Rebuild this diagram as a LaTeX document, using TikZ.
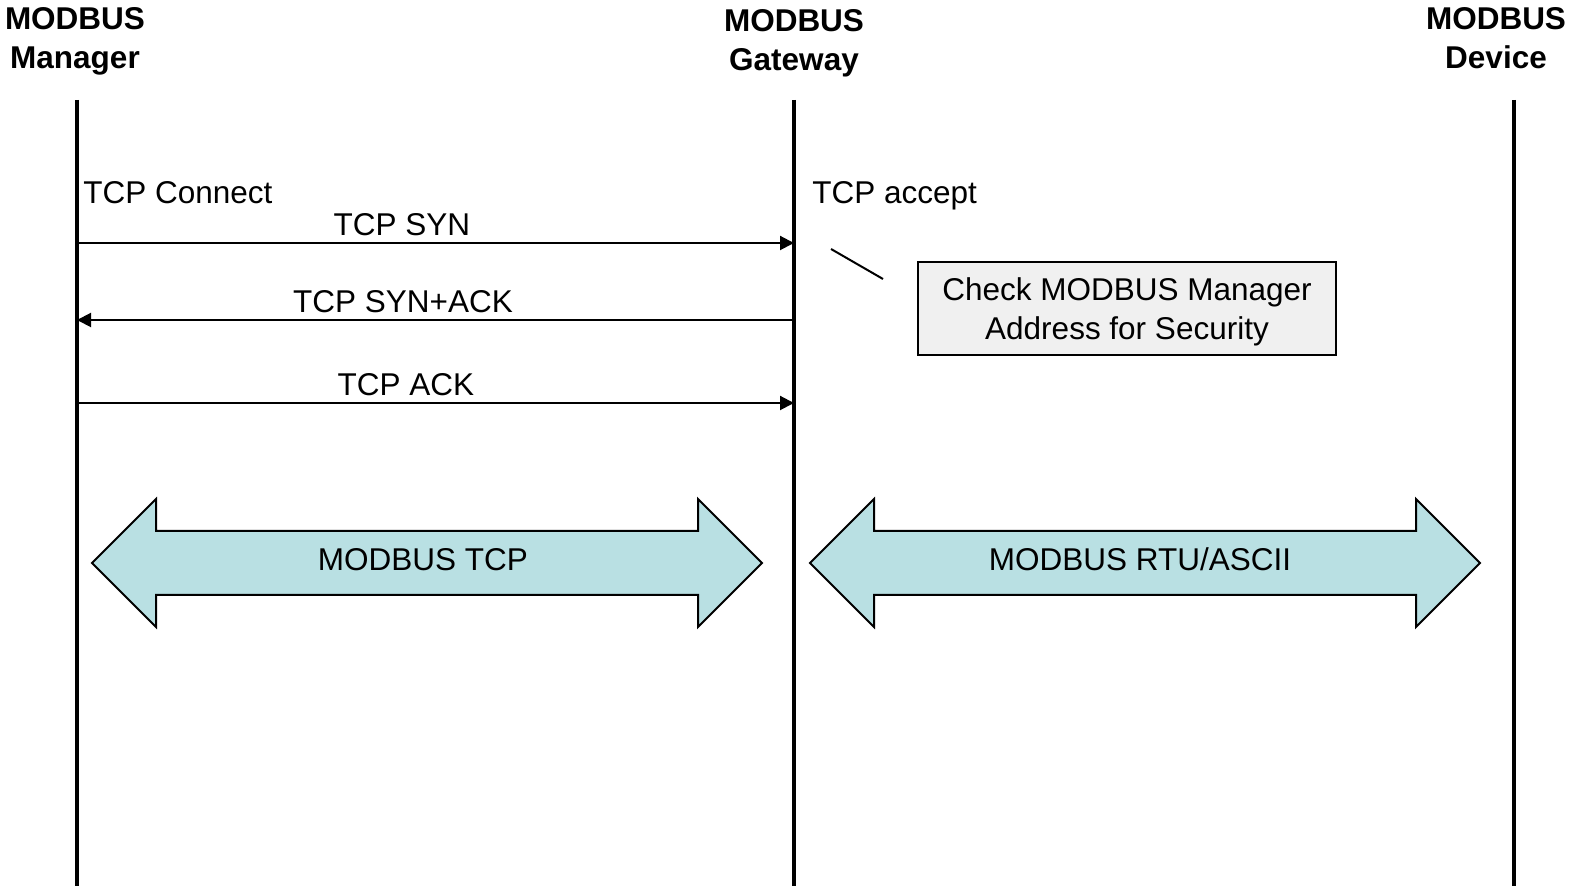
\documentclass[tikz,border=0pt]{standalone}
\usepackage{fontspec}
\setmainfont{Liberation Sans}
\usetikzlibrary{arrows.meta}
\definecolor{pipecol}{RGB}{185,224,227}
\definecolor{boxcol}{RGB}{240,240,240}

\begin{document}
\begin{tikzpicture}[x=0.5pt,y=-0.5pt,>={Triangle[length=7pt,width=7pt]},
  every node/.style={font=\fontsize{15.75}{19.5}\selectfont,inner sep=0pt},
  head/.style={font=\bfseries\fontsize{15.75}{19.5}\selectfont,align=center,anchor=base},
  life/.style={line width=1.6pt},
  msg/.style={line width=1pt,->},
  pipe/.style={draw=black,line width=1pt,fill=pipecol,line join=miter}]
\useasboundingbox (0,0) rectangle (1574,886);
% heads of the three parties
\node[head] (mgr) at (75,69) {MODBUS\\Manager};
\node[head] (gw) at (794,71) {MODBUS\\Gateway};
\node[head] (dev) at (1496,69) {MODBUS\\Device};
% lifelines
\coordinate (mgrTop) at (77,100); \coordinate (mgrBot) at (77,886);
\coordinate (gwTop) at (794,100); \coordinate (gwBot) at (794,886);
\coordinate (devTop) at (1514,100); \coordinate (devBot) at (1514,886);
\draw[life] (mgrTop)--(mgrBot);
\draw[life] (gwTop)--(gwBot);
\draw[life] (devTop)--(devBot);
% handshake
\node[anchor=base west] (conn) at (83,204) {TCP Connect};
\node[anchor=base west] (acc) at (812,204) {TCP accept};
\coordinate (syn1) at (77,243); \coordinate (syn2) at (794,243);
\coordinate (sa1) at (77,320); \coordinate (sa2) at (794,320);
\coordinate (ack1) at (77,403); \coordinate (ack2) at (794,403);
\draw[msg] (syn1)--(syn2);
\draw[msg] (sa2)--(sa1);
\draw[msg] (ack1)--(ack2);
\node[anchor=base] (synL) at (402,236) {TCP SYN};
\node[anchor=base] (saL) at (403,313) {TCP SYN+ACK};
\node[anchor=base] (ackL) at (406,396) {TCP ACK};
% security check
\coordinate (tick1) at (831,249); \coordinate (tick2) at (883,279);
\draw[line width=1pt] (tick1)--(tick2);
\draw[line width=1pt,fill=boxcol] (918,262) rectangle (1336,355);
\node[anchor=base] (chk1) at (1127,301) {Check MODBUS Manager};
\node[anchor=base] (chk2) at (1127,340) {Address for Security};
% the two links
\foreach \x in {92,810}
  \draw[pipe] (\x,563) -- ++(64,-64) -- ++(0,32) -- ++(542,0) -- ++(0,-32)
    -- ++(64,64) -- ++(-64,64) -- ++(0,-32) -- ++(-542,0) -- ++(0,32) -- cycle;
\node[anchor=base] (tcp) at (423,571) {MODBUS TCP};
\node[anchor=base] (rtu) at (1140,571) {MODBUS RTU/ASCII};
\end{tikzpicture}
\end{document}
